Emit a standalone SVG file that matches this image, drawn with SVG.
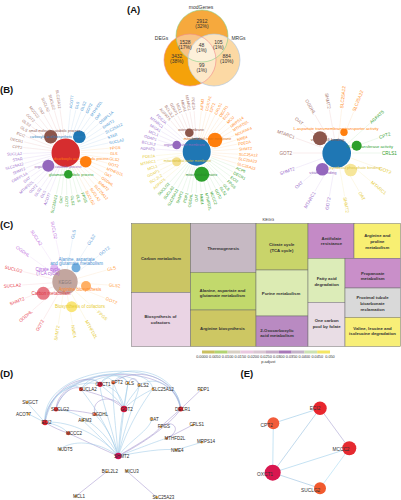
<svg xmlns="http://www.w3.org/2000/svg" width="401" height="500" viewBox="0 0 401 500">
<defs>
<style>
text{font-family:"Liberation Sans",Arial,sans-serif}
.pl{font-size:9.5px;font-weight:bold;fill:#111}
.vn{font-size:5px;fill:#333;text-anchor:middle}
.g1 text,.g2 text{font-size:3.9px;dominant-baseline:central}
.g3 text{font-size:4.6px;dominant-baseline:central}
.gc text{font-size:4.5px;dominant-baseline:central}
.r{text-anchor:start}
.l{text-anchor:end}
line{stroke-width:0.35}
.br text{fill:#a5736b}.br line{stroke:#efcfcf}
.bl text{fill:#3d8fd0}.bl line{stroke:#c9def2}
.or text{fill:#ff8a1c}.or line{stroke:#fde0c0}
.pu text{fill:#9b6fcc}.pu line{stroke:#e0d2f2}
.gr text{fill:#33a02c}.gr line{stroke:#cdeccd}
.ye text{fill:#e6cc3a}.ye line{stroke:#f6eec0}
.rd text{fill:#e8404c}.rd line{stroke:#f6d0d4}
.cb text{fill:#5a9bd8}.cb line{stroke:#d0e2f4}
.cp text{fill:#c070e0}.cp line{stroke:#ecd8f6}
.co text{fill:#ffa040}.co line{stroke:#fde4c8}
.cat{font-size:3.5px;text-anchor:middle}
.cat3{font-size:4.1px;text-anchor:middle}
.catc{font-size:4.5px;text-anchor:middle}
.tm rect{stroke:#6e6e6e;stroke-width:0.5}
.tm text{font-size:4.3px;font-weight:bold;fill:#333;text-anchor:middle}
.cbl{font-size:3.8px;fill:#333;text-anchor:middle}
.de{fill:none;stroke-width:0.55}
.eb{stroke:#9ec9e8}.ep{stroke:#a596d0}
.nd text{font-size:4.5px;fill:#2a2a2a;text-anchor:middle}
.ne text{font-size:4.8px;fill:#333;text-anchor:middle}
.eg{stroke-width:1}
</style>
<clipPath id="cDEG"><circle cx="190" cy="60" r="26"/></clipPath>
<clipPath id="cMOD"><circle cx="202" cy="36" r="26"/></clipPath>
</defs>
<rect width="401" height="500" fill="#fff"/>

<!-- Panel letters -->
<text class="pl" x="127" y="13">(A)</text>
<text class="pl" x="0" y="93">(B)</text>
<text class="pl" x="0" y="228">(C)</text>
<text class="pl" x="0" y="377">(D)</text>
<text class="pl" x="240.5" y="377">(E)</text>

<!-- (A) Venn -->
<g id="venn">
<circle cx="190" cy="60" r="26" fill="#f5a20a"/>
<circle cx="202" cy="36" r="26" fill="#f6a93d"/>
<circle cx="214" cy="60" r="26" fill="#fcd9a4"/>
<circle cx="202" cy="36" r="26" fill="#f8c386" clip-path="url(#cDEG)"/>
<circle cx="214" cy="60" r="26" fill="#fde3bd" clip-path="url(#cMOD)"/>
<circle cx="214" cy="60" r="26" fill="#fde8c8" clip-path="url(#cDEG)"/>
<g clip-path="url(#cDEG)"><circle cx="214" cy="60" r="26" fill="#fdf0da" clip-path="url(#cMOD)"/></g>
<circle cx="202" cy="36" r="26" fill="none" stroke="#86cf86" stroke-width="0.6"/>
<circle cx="190" cy="60" r="26" fill="none" stroke="#f08a8a" stroke-width="0.6"/>
<circle cx="214" cy="60" r="26" fill="none" stroke="#a9c3e0" stroke-width="0.6"/>
<text class="vn" x="201" y="8.5">modGenes</text>
<text class="vn" x="161.5" y="39.5">DEGs</text>
<text class="vn" x="238.5" y="39.5">MRGs</text>
<text class="vn" x="202" y="23">2912</text><text class="vn" x="202" y="28">(32%)</text>
<text class="vn" x="185" y="44.3">1528</text><text class="vn" x="185" y="49.3">(17%)</text>
<text class="vn" x="201.5" y="46.5">48</text><text class="vn" x="201.5" y="51.8">(1%)</text>
<text class="vn" x="218.3" y="44.3">105</text><text class="vn" x="218.3" y="49.3">(1%)</text>
<text class="vn" x="176.7" y="57.7">3432</text><text class="vn" x="176.7" y="63">(38%)</text>
<text class="vn" x="226.7" y="57.7">884</text><text class="vn" x="226.7" y="63">(10%)</text>
<text class="vn" x="201.7" y="66.5">99</text><text class="vn" x="201.7" y="71.7">(1%)</text>
</g>

<!-- (B1) -->
<g id="cnet-b1" class="g1" transform="translate(66,152)">
<g class="br">
<g transform="rotate(186)"><line x1="15" x2="43"/><text class="l" transform="translate(44) rotate(180)">CPT2</text></g>
<g transform="rotate(193.6)"><line x1="15" x2="43"/><text class="l" transform="translate(44) rotate(180)">DECR1</text></g>
<g transform="rotate(201.2)"><line x1="15" x2="43"/><text class="l" transform="translate(44) rotate(180)">ECI2</text></g>
<g transform="rotate(208.8)"><line x1="15" x2="43"/><text class="l" transform="translate(44) rotate(180)">GLS</text></g>
<g transform="rotate(216.4)"><line x1="15" x2="43"/><text class="l" transform="translate(44) rotate(180)">GLS2</text></g>
<g transform="rotate(224)"><line x1="15" x2="43"/><text class="l" transform="translate(44) rotate(180)">GOT2</text></g>
<g transform="rotate(231.6)"><line x1="15" x2="43"/><text class="l" transform="translate(44) rotate(180)">MCCC2</text></g>
<g transform="rotate(239.2)"><line x1="15" x2="43"/><text class="l" transform="translate(44) rotate(180)">OAT</text></g>
<g transform="rotate(246.8)"><line x1="15" x2="43"/><text class="l" transform="translate(44) rotate(180)">SUCLA2</text></g>
<g transform="rotate(254.4)"><line x1="15" x2="43"/><text class="l" transform="translate(44) rotate(180)">SUCLG2</text></g>
<g transform="rotate(262)"><line x1="15" x2="43"/><text class="l" transform="translate(44) rotate(180)">SLC25A12</text></g>
</g>
<g class="bl">
<g transform="rotate(-84)"><line x1="15" x2="43"/><text class="r" x="44">ACOT7</text></g>
<g transform="rotate(-76.8)"><line x1="15" x2="43"/><text class="r" x="44">GLS</text></g>
<g transform="rotate(-69.6)"><line x1="15" x2="43"/><text class="r" x="44">GLS2</text></g>
<g transform="rotate(-62.4)"><line x1="15" x2="43"/><text class="r" x="44">GOT2</text></g>
<g transform="rotate(-55.2)"><line x1="15" x2="43"/><text class="r" x="44">MTHFD2L</text></g>
<g transform="rotate(-48)"><line x1="15" x2="43"/><text class="r" x="44">OAT</text></g>
<g transform="rotate(-40.8)"><line x1="15" x2="43"/><text class="r" x="44">OSBPL1A</text></g>
<g transform="rotate(-33.6)"><line x1="15" x2="43"/><text class="r" x="44">SHMT2</text></g>
<g transform="rotate(-26.4)"><line x1="15" x2="43"/><text class="r" x="44">SLC25A12</text></g>
<g transform="rotate(-19.2)"><line x1="15" x2="43"/><text class="r" x="44">STAR</text></g>
<g transform="rotate(-12)"><line x1="15" x2="43"/><text class="r" x="44">SUCLA2</text></g>
</g>
<g class="or">
<g transform="rotate(-5)"><line x1="15" x2="43"/><text class="r" x="44">FPGS</text></g>
<g transform="rotate(1.7)"><line x1="15" x2="43"/><text class="r" x="44">GLS</text></g>
<g transform="rotate(8.4)"><line x1="15" x2="43"/><text class="r" x="44">GLS2</text></g>
<g transform="rotate(15.1)"><line x1="15" x2="43"/><text class="r" x="44">GOT2</text></g>
<g transform="rotate(21.8)"><line x1="15" x2="43"/><text class="r" x="44">MTHFD2L</text></g>
<g transform="rotate(28.5)"><line x1="15" x2="43"/><text class="r" x="44">OAT</text></g>
<g transform="rotate(35.2)"><line x1="15" x2="43"/><text class="r" x="44">OGDHL</text></g>
<g transform="rotate(41.9)"><line x1="15" x2="43"/><text class="r" x="44">SHMT2</text></g>
<g transform="rotate(48.6)"><line x1="15" x2="43"/><text class="r" x="44">SLC25A12</text></g>
<g transform="rotate(55.3)"><line x1="15" x2="43"/><text class="r" x="44">SUCLA2</text></g>
<g transform="rotate(62)"><line x1="15" x2="43"/><text class="r" x="44">SUCLG2</text></g>
</g>
<g class="gr">
<g transform="rotate(68)"><line x1="15" x2="43"/><text class="r" x="44">FPGS</text></g>
<g transform="rotate(75)"><line x1="15" x2="43"/><text class="r" x="44">GLS</text></g>
<g transform="rotate(82)"><line x1="15" x2="43"/><text class="r" x="44">GLS2</text></g>
<g transform="rotate(89)"><line x1="15" x2="43"/><text class="r" x="44">GOT2</text></g>
<g transform="rotate(96)"><line x1="15" x2="43"/><text class="l" transform="translate(44) rotate(180)">OAT</text></g>
<g transform="rotate(103)"><line x1="15" x2="43"/><text class="l" transform="translate(44) rotate(180)">SLC25A12</text></g>
</g>
<g class="pu">
<g transform="rotate(112)"><line x1="15" x2="43"/><text class="l" transform="translate(44) rotate(180)">ACOT7</text></g>
<g transform="rotate(118.6)"><line x1="15" x2="43"/><text class="l" transform="translate(44) rotate(180)">GLS</text></g>
<g transform="rotate(125.2)"><line x1="15" x2="43"/><text class="l" transform="translate(44) rotate(180)">GLS2</text></g>
<g transform="rotate(131.8)"><line x1="15" x2="43"/><text class="l" transform="translate(44) rotate(180)">GOT2</text></g>
<g transform="rotate(138.4)"><line x1="15" x2="43"/><text class="l" transform="translate(44) rotate(180)">MTHFD2L</text></g>
<g transform="rotate(145)"><line x1="15" x2="43"/><text class="l" transform="translate(44) rotate(180)">OAT</text></g>
<g transform="rotate(151.6)"><line x1="15" x2="43"/><text class="l" transform="translate(44) rotate(180)">OSBPL1A</text></g>
<g transform="rotate(158.2)"><line x1="15" x2="43"/><text class="l" transform="translate(44) rotate(180)">SHMT2</text></g>
<g transform="rotate(164.8)"><line x1="15" x2="43"/><text class="l" transform="translate(44) rotate(180)">SLC25A12</text></g>
<g transform="rotate(171.4)"><line x1="15" x2="43"/><text class="l" transform="translate(44) rotate(180)">STAR</text></g>
<g transform="rotate(178)"><line x1="15" x2="43"/><text class="l" transform="translate(44) rotate(180)">SUCLA2</text></g>
</g>
</g>
<g id="cat-b1">
<circle cx="65.7" cy="152.7" r="14.2" fill="#d62d2f"/>
<circle cx="50.7" cy="136.7" r="6.7" fill="#8c564b"/>
<circle cx="79.3" cy="136.7" r="6.3" fill="#1f77b4"/>
<circle cx="85.7" cy="161.7" r="5.8" fill="#ff7f0e"/>
<circle cx="48.3" cy="165.7" r="6" fill="#9467bd"/>
<circle cx="68.3" cy="174.3" r="4.3" fill="#2ca02c"/>
<text class="cat" x="54.7" y="132.3" fill="#8c564b">small molecule catabolic process</text>
<text class="cat" x="57.7" y="138" fill="#2f7fc0">carboxylic acid biosynthetic process</text>
<text class="cat" x="81.3" y="160.3" fill="#ff7f0e">dicarboxylic acid metabolic process</text>
<text class="cat" x="58" y="168" fill="#9467bd">organic acid catabolic process</text>
<text class="cat" x="71.3" y="176.3" fill="#2ca02c">glutamate metabolic process</text>
</g>

<!-- (B2) -->
<g id="cnet-b2" class="g2" transform="translate(197,152)">
<g class="br">
<g transform="rotate(230)"><line x1="15" x2="41"/><text class="l" transform="translate(42) rotate(180)">AGPAT5</text></g>
<g transform="rotate(236)"><line x1="15" x2="41"/><text class="l" transform="translate(42) rotate(180)">BCL2L2</text></g>
<g transform="rotate(242)"><line x1="15" x2="41"/><text class="l" transform="translate(42) rotate(180)">GDAP1</text></g>
<g transform="rotate(248)"><line x1="15" x2="41"/><text class="l" transform="translate(42) rotate(180)">MCL1</text></g>
<g transform="rotate(254)"><line x1="15" x2="41"/><text class="l" transform="translate(42) rotate(180)">MIGA1</text></g>
<g transform="rotate(260)"><line x1="15" x2="41"/><text class="l" transform="translate(42) rotate(180)">MTARC1</text></g>
<g transform="rotate(266)"><line x1="15" x2="41"/><text class="l" transform="translate(42) rotate(180)">PDE2A</text></g>
</g>
<g class="or">
<g transform="rotate(-84)"><line x1="15" x2="41"/><text class="r" x="42">AIFM3</text></g>
<g transform="rotate(-77)"><line x1="15" x2="41"/><text class="r" x="42">COX7A1</text></g>
<g transform="rotate(-71)"><line x1="15" x2="41"/><text class="r" x="42">CPT2</text></g>
<g transform="rotate(-64)"><line x1="15" x2="41"/><text class="r" x="42">CRLS1</text></g>
<g transform="rotate(-57)"><line x1="15" x2="41"/><text class="r" x="42">DECR1</text></g>
<g transform="rotate(-51)"><line x1="15" x2="41"/><text class="r" x="42">ECI2</text></g>
<g transform="rotate(-44)"><line x1="15" x2="41"/><text class="r" x="42">MCU</text></g>
<g transform="rotate(-37)"><line x1="15" x2="41"/><text class="r" x="42">MRPS14</text></g>
<g transform="rotate(-31)"><line x1="15" x2="41"/><text class="r" x="42">MTHFD2L</text></g>
<g transform="rotate(-24)"><line x1="15" x2="41"/><text class="r" x="42">NDUFAF4</text></g>
<g transform="rotate(-17)"><line x1="15" x2="41"/><text class="r" x="42">NME4</text></g>
<g transform="rotate(-11)"><line x1="15" x2="41"/><text class="r" x="42">PDE2A</text></g>
<g transform="rotate(-4)"><line x1="15" x2="41"/><text class="r" x="42">SHMT2</text></g>
<g transform="rotate(3)"><line x1="15" x2="41"/><text class="r" x="42">SLC25A12</text></g>
<g transform="rotate(9)"><line x1="15" x2="41"/><text class="r" x="42">SLC25A22</text></g>
<g transform="rotate(16)"><line x1="15" x2="41"/><text class="r" x="42">SLC25A23</text></g>
</g>
<g class="gr">
<g transform="rotate(22)"><line x1="15" x2="41"/><text class="r" x="42">ACP6</text></g>
<g transform="rotate(29)"><line x1="15" x2="41"/><text class="r" x="42">DECR1</text></g>
<g transform="rotate(36)"><line x1="15" x2="41"/><text class="r" x="42">ECI2</text></g>
<g transform="rotate(43)"><line x1="15" x2="41"/><text class="r" x="42">FPGS</text></g>
<g transform="rotate(50)"><line x1="15" x2="41"/><text class="r" x="42">GLS</text></g>
<g transform="rotate(56)"><line x1="15" x2="41"/><text class="r" x="42">GLS2</text></g>
<g transform="rotate(63)"><line x1="15" x2="41"/><text class="r" x="42">GOT2</text></g>
<g transform="rotate(70)"><line x1="15" x2="41"/><text class="r" x="42">MCCC2</text></g>
<g transform="rotate(77)"><line x1="15" x2="41"/><text class="r" x="42">MTHFD2L</text></g>
<g transform="rotate(84)"><line x1="15" x2="41"/><text class="r" x="42">NME4</text></g>
<g transform="rotate(91)"><line x1="15" x2="41"/><text class="l" transform="translate(42) rotate(180)">OAT</text></g>
<g transform="rotate(98)"><line x1="15" x2="41"/><text class="l" transform="translate(42) rotate(180)">OGDHL</text></g>
<g transform="rotate(104)"><line x1="15" x2="41"/><text class="l" transform="translate(42) rotate(180)">PDP1</text></g>
<g transform="rotate(111)"><line x1="15" x2="41"/><text class="l" transform="translate(42) rotate(180)">SHMT2</text></g>
<g transform="rotate(118)"><line x1="15" x2="41"/><text class="l" transform="translate(42) rotate(180)">SLC25A12</text></g>
<g transform="rotate(125)"><line x1="15" x2="41"/><text class="l" transform="translate(42) rotate(180)">SUCLA2</text></g>
<g transform="rotate(132)"><line x1="15" x2="41"/><text class="l" transform="translate(42) rotate(180)">SUCLG2</text></g>
</g>
<g class="ye">
<g transform="rotate(140)"><line x1="15" x2="41"/><text class="l" transform="translate(42) rotate(180)">AGPAT5</text></g>
<g transform="rotate(147)"><line x1="15" x2="41"/><text class="l" transform="translate(42) rotate(180)">BCL2L2</text></g>
<g transform="rotate(154)"><line x1="15" x2="41"/><text class="l" transform="translate(42) rotate(180)">GDAP1</text></g>
<g transform="rotate(161)"><line x1="15" x2="41"/><text class="l" transform="translate(42) rotate(180)">MCL1</text></g>
<g transform="rotate(168)"><line x1="15" x2="41"/><text class="l" transform="translate(42) rotate(180)">MTARC1</text></g>
<g transform="rotate(175)"><line x1="15" x2="41"/><text class="l" transform="translate(42) rotate(180)">PDE2A</text></g>
</g>
<g class="pu">
<g transform="rotate(184)"><line x1="15" x2="41"/><text class="l" transform="translate(42) rotate(180)">AGPAT5</text></g>
<g transform="rotate(190.5)"><line x1="15" x2="41"/><text class="l" transform="translate(42) rotate(180)">BCL2L2</text></g>
<g transform="rotate(197)"><line x1="15" x2="41"/><text class="l" transform="translate(42) rotate(180)">GDAP1</text></g>
<g transform="rotate(203.5)"><line x1="15" x2="41"/><text class="l" transform="translate(42) rotate(180)">MCL1</text></g>
<g transform="rotate(210)"><line x1="15" x2="41"/><text class="l" transform="translate(42) rotate(180)">MIGA1</text></g>
<g transform="rotate(216.5)"><line x1="15" x2="41"/><text class="l" transform="translate(42) rotate(180)">MTARC1</text></g>
<g transform="rotate(223)"><line x1="15" x2="41"/><text class="l" transform="translate(42) rotate(180)">PDE2A</text></g>
</g>
</g>
<g id="cat-b2">
<circle cx="196.7" cy="151.7" r="14" fill="#1f77b4"/>
<circle cx="189.3" cy="132.7" r="4.3" fill="#8c564b"/>
<circle cx="215" cy="140" r="7.3" fill="#ff7f0e"/>
<circle cx="176.7" cy="145" r="4.3" fill="#9467bd"/>
<circle cx="176.7" cy="161.7" r="4.5" fill="#f3df8e"/>
<circle cx="201.7" cy="174.3" r="7.5" fill="#2ca02c"/>
<text class="cat" x="191" y="131.3" fill="#8c564b">outer membrane</text>
<text class="cat" x="207.5" y="139.6" fill="#e07010">mitochondrial inner membrane</text>
<text class="cat" x="184.5" y="146.3" fill="#9467bd">organelle outer membrane</text>
<text class="cat" x="187.5" y="162.3" fill="#d8be30">mitochondrial outer membrane</text>
<text class="cat" x="201.5" y="175.5" fill="#2a8a2a">mitochondrial matrix</text>
</g>

<!-- (B3) -->
<g id="cnet-b3" class="g3" transform="translate(337,153)">
<g class="br">
<g transform="rotate(180)"><line x1="15" x2="44"/><text class="l" transform="translate(45) rotate(180)">GOT2</text></g>
<g transform="rotate(200)"><line x1="15" x2="44"/><text class="l" transform="translate(45) rotate(180)">MTARC1</text></g>
<g transform="rotate(220)"><line x1="15" x2="44"/><text class="l" transform="translate(45) rotate(180)">OAT</text></g>
<g transform="rotate(240)"><line x1="15" x2="44"/><text class="l" transform="translate(45) rotate(180)">OGDHL</text></g>
<g transform="rotate(260)"><line x1="15" x2="44"/><text class="l" transform="translate(45) rotate(180)">SHMT2</text></g>
</g>
<g class="or">
<g transform="rotate(-84)"><line x1="15" x2="44"/><text class="r" x="45">SLC25A12</text></g>
<g transform="rotate(-68)"><line x1="15" x2="44"/><text class="r" x="45">SLC25A22</text></g>
</g>
<g class="gr">
<g transform="rotate(-42)"><line x1="15" x2="44"/><text class="r" x="45">AGPAT5</text></g>
<g transform="rotate(-20)"><line x1="15" x2="44"/><text class="r" x="45">CPT2</text></g>
<g transform="rotate(0)"><line x1="15" x2="44"/><text class="r" x="45">CRLS1</text></g>
</g>
<g class="ye">
<g transform="rotate(20)"><line x1="15" x2="44"/><text class="r" x="45">GOT2</text></g>
<g transform="rotate(40)"><line x1="15" x2="44"/><text class="r" x="45">MTARC1</text></g>
<g transform="rotate(60)"><line x1="15" x2="44"/><text class="r" x="45">OAT</text></g>
<g transform="rotate(80)"><line x1="15" x2="44"/><text class="r" x="45">SHMT2</text></g>
</g>
<g class="pu">
<g transform="rotate(100)"><line x1="15" x2="44"/><text class="l" transform="translate(45) rotate(180)">GOT2</text></g>
<g transform="rotate(120)"><line x1="15" x2="44"/><text class="l" transform="translate(45) rotate(180)">MTARC1</text></g>
<g transform="rotate(140)"><line x1="15" x2="44"/><text class="l" transform="translate(45) rotate(180)">OAT</text></g>
<g transform="rotate(160)"><line x1="15" x2="44"/><text class="l" transform="translate(45) rotate(180)">SHMT2</text></g>
</g>
</g>
<g id="cat-b3">
<circle cx="336.7" cy="153.3" r="14.3" fill="#1f77b4"/>
<circle cx="320" cy="138.3" r="7" fill="#8c564b"/>
<circle cx="344" cy="132.3" r="3.7" fill="#ff7f0e"/>
<circle cx="356.7" cy="145.7" r="5" fill="#2ca02c"/>
<circle cx="322.3" cy="169.3" r="6.3" fill="#9467bd"/>
<circle cx="350.7" cy="170" r="6.3" fill="#f6e69a"/>
<text class="cat3" x="336" y="129.8" fill="#ff7f0e">L-aspartate transmembrane transporter activity</text>
<text class="cat3" x="327.5" y="140.5" fill="#8c564b">vitamin B6 binding</text>
<text class="cat3" x="370" y="147.5" fill="#2ca02c">O-acyltransferase activity</text>
<text class="cat3" x="355" y="168.8" fill="#e0c640">pyridoxal phosphate binding</text>
<text class="cat3" x="323" y="174.3" fill="#9467bd">vitamin binding</text>
</g>

<!-- (C) cnet KEGG -->
<g id="cnet-c" class="gc" transform="translate(65,282)">
<g class="cp">
<g transform="rotate(216)"><line x1="13" x2="43"/><text class="l" transform="translate(44) rotate(180)">OGDHL</text></g>
<g transform="rotate(237)"><line x1="13" x2="43"/><text class="l" transform="translate(44) rotate(180)">SUCLA2</text></g>
<g transform="rotate(258)"><line x1="13" x2="43"/><text class="l" transform="translate(44) rotate(180)">SUCLG2</text></g>
</g>
<g class="cb">
<g transform="rotate(-80)"><line x1="13" x2="43"/><text class="r" x="44">GLS</text></g>
<g transform="rotate(-58)"><line x1="13" x2="43"/><text class="r" x="44">GLS2</text></g>
<g transform="rotate(-38)"><line x1="13" x2="43"/><text class="r" x="44">GOT2</text></g>
</g>
<g class="co">
<g transform="rotate(-16)"><line x1="13" x2="43"/><text class="r" x="44">GLS</text></g>
<g transform="rotate(4)"><line x1="13" x2="43"/><text class="r" x="44">GLS2</text></g>
<g transform="rotate(22)"><line x1="13" x2="43"/><text class="r" x="44">GOT2</text></g>
</g>
<g class="ye">
<g transform="rotate(42)"><line x1="13" x2="43"/><text class="r" x="44">FPGS</text></g>
<g transform="rotate(61)"><line x1="13" x2="43"/><text class="r" x="44">MTHFD2L</text></g>
<g transform="rotate(80)"><line x1="13" x2="43"/><text class="r" x="44">NME4</text></g>
<g transform="rotate(99)"><line x1="13" x2="43"/><text class="l" transform="translate(44) rotate(180)">SHMT2</text></g>
</g>
<g class="rd">
<g transform="rotate(120)"><line x1="13" x2="43"/><text class="l" transform="translate(44) rotate(180)">GOT2</text></g>
<g transform="rotate(139)"><line x1="13" x2="43"/><text class="l" transform="translate(44) rotate(180)">OGDHL</text></g>
<g transform="rotate(158)"><line x1="13" x2="43"/><text class="l" transform="translate(44) rotate(180)">SHMT2</text></g>
<g transform="rotate(176)"><line x1="13" x2="43"/><text class="l" transform="translate(44) rotate(180)">SUCLA2</text></g>
<g transform="rotate(194)"><line x1="13" x2="43"/><text class="l" transform="translate(44) rotate(180)">SUCLG2</text></g>
</g>
</g>
<g id="cat-c">
<circle cx="65" cy="281.7" r="12.7" fill="#b8968e" fill-opacity="0.85"/>
<circle cx="43.3" cy="293.3" r="6.5" fill="#e2606e" fill-opacity="0.85"/>
<circle cx="86" cy="286" r="5" fill="#ffa24a" fill-opacity="0.85"/>
<circle cx="76" cy="267.7" r="4.5" fill="#5aa0d8" fill-opacity="0.85"/>
<circle cx="54.3" cy="268.3" r="4" fill="#d9aef0" fill-opacity="0.85"/>
<circle cx="71.7" cy="306.7" r="5.5" fill="#f8e060" fill-opacity="0.85"/>
<text class="catc" x="76.7" y="260.5" fill="#4a90d0">Alanine, aspartate</text>
<text class="catc" x="76.7" y="264.8" fill="#4a90d0">and glutamate metabolism</text>
<text class="catc" x="48" y="270.5" fill="#b060d8">Citrate cycle</text>
<text class="catc" x="48" y="274.8" fill="#b060d8">(TCA cycle)</text>
<text class="catc" x="65" y="283.5" fill="#8a7a78">KEGG</text>
<text class="catc" x="80" y="290.5" fill="#ff8a2a">Arginine biosynthesis</text>
<text class="catc" x="51" y="294.8" fill="#e03a48">Carbon metabolism</text>
<text class="catc" x="80" y="308.3" fill="#e8cc30">Biosynthesis of cofactors</text>
</g>

<!-- (C) treemap -->
<g id="treemap" class="tm">
<text x="268.3" y="220.5" style="font-size:4px;font-weight:normal;fill:#333">KEGG</text>
<rect x="131.5" y="223.5" width="59.2" height="69" fill="#cbc564"/>
<text x="161" y="260">Carbon metabolism</text>
<rect x="131.5" y="292.5" width="59.2" height="54" fill="#ead4e4"/>
<text x="160.5" y="318.2">Biosynthesis of</text><text x="160.5" y="323.8">cofactors</text>
<rect x="190.7" y="223.5" width="65.3" height="48.8" fill="#c6b9c3"/>
<text x="223.3" y="250">Thermogenesis</text>
<rect x="190.7" y="272.3" width="65.3" height="37.7" fill="#c2d96c"/>
<text x="222.5" y="292">Alanine, aspartate and</text><text x="222.5" y="296.8">glutamate metabolism</text>
<rect x="190.7" y="310" width="65.3" height="36.5" fill="#cdc763"/>
<text x="222.5" y="329.8">Arginine biosynthesis</text>
<rect x="256" y="223.5" width="52" height="46.5" fill="#c9d46a"/>
<text x="281.7" y="246.3">Citrate cycle</text><text x="281.7" y="251.5">(TCA cycle)</text>
<rect x="256" y="270" width="52" height="46" fill="#dcebb3"/>
<text x="281" y="294.6">Purine metabolism</text>
<rect x="256" y="316" width="52" height="30.5" fill="#b98ac2"/>
<text x="277" y="332">2-Oxocarboxylic</text><text x="277" y="337.3">acid metabolism</text>
<rect x="308" y="223.5" width="46" height="34.8" fill="#c48ac6"/>
<text x="331.5" y="239.5">Antifolate</text><text x="331.5" y="245">resistance</text>
<rect x="354" y="223.5" width="46.5" height="34.8" fill="#f8ef72"/>
<text x="377.3" y="237">Arginine and</text><text x="377.3" y="242.8">proline</text><text x="377.3" y="248.6">metabolism</text>
<rect x="308" y="258.3" width="37" height="44" fill="#dcecb8"/>
<text x="326.7" y="279.5">Fatty acid</text><text x="326.7" y="285.5">degradation</text>
<rect x="308" y="302.3" width="37" height="44.2" fill="#e9dde5"/>
<text x="326.7" y="322.3">One carbon</text><text x="326.7" y="328">pool by folate</text>
<rect x="345" y="258.3" width="55.5" height="29.7" fill="#c98fc9"/>
<text x="372.7" y="274.5">Propanoate</text><text x="372.7" y="279.8">metabolism</text>
<rect x="345" y="288" width="55.5" height="29.3" fill="#d9d9d9"/>
<text x="372.5" y="298.5">Proximal tubule</text><text x="372.5" y="304.5">bicarbonate</text><text x="372.5" y="310.5">reclamation</text>
<rect x="345" y="317.3" width="55.5" height="29.2" fill="#f8ef78"/>
<text x="372.5" y="329.6">Valine, leucine and</text><text x="372.5" y="334.8">isoleucine degradation</text>
</g>

<!-- colorbar -->
<g id="colorbar">
<rect x="202" y="350.5" width="12.8" height="3" fill="#c9c060"/>
<rect x="214.8" y="350.5" width="12.8" height="3" fill="#b2d472"/>
<rect x="227.6" y="350.5" width="12.8" height="3" fill="#d8d0c4"/>
<rect x="240.4" y="350.5" width="12.8" height="3" fill="#e9c8e0"/>
<rect x="253.2" y="350.5" width="12.8" height="3" fill="#d9c6d2"/>
<rect x="266" y="350.5" width="12.8" height="3" fill="#c6aac6"/>
<rect x="278.8" y="350.5" width="12.8" height="3" fill="#a878b8"/>
<rect x="291.6" y="350.5" width="12.8" height="3" fill="#c4b4c8"/>
<rect x="304.4" y="350.5" width="12.8" height="3" fill="#cce2b2"/>
<rect x="317.2" y="350.5" width="12.8" height="3" fill="#f4e664"/>
<text class="cbl" x="202" y="357.6">0.0000</text>
<text class="cbl" x="214.8" y="357.6">0.0050</text>
<text class="cbl" x="227.6" y="357.6">0.0100</text>
<text class="cbl" x="240.4" y="357.6">0.0150</text>
<text class="cbl" x="253.2" y="357.6">0.0200</text>
<text class="cbl" x="266" y="357.6">0.0250</text>
<text class="cbl" x="278.8" y="357.6">0.0300</text>
<text class="cbl" x="291.6" y="357.6">0.0350</text>
<text class="cbl" x="304.4" y="357.6">0.0400</text>
<text class="cbl" x="317.2" y="357.6">0.0450</text>
<text class="cbl" x="330" y="357.6">0.050</text>
<text class="cbl" x="268.3" y="362.8" style="font-size:4px">p.adjust</text>
</g>

<!-- (D) connectors -->
<g id="d-edges">
<path class="de eb" d="M45,422.5 C40,362 178,352 180.7,409"/>
<path class="de ep" d="M56,409.3 C58,366 176,360 180.7,409"/>
<path class="de eb" d="M45,422.5 C44,372 150,360 152.7,389"/>
<path class="de eb" d="M45,422.5 C46,378 120,368 124,409"/>
<path class="de ep" d="M45,422.5 C50,382 92,372 100,384.3"/>
<path class="de eb" d="M45,422.5 C52,390 74,380 81,389.3"/>
<path class="de eb" d="M56,409.3 C62,386 94,372 100,384.3"/>
<path class="de ep" d="M56,409.3 C60,392 76,384 81,389.3"/>
<path class="de eb" d="M81,389.3 C92,370 122,372 128,383"/>
<path class="de eb" d="M81,389.3 C98,372 134,372 139.3,385"/>
<path class="de eb" d="M100,384.3 C104,376 110,376 113.3,382.7"/>
<path class="de eb" d="M113.3,382.7 C118,375 124,375 128,383"/>
<path class="de ep" d="M128,383 C132,376 137,378 139.3,385"/>
<path class="de eb" d="M100,384.3 C118,362 176,366 180.7,409"/>
<path class="de ep" d="M113.3,382.7 C134,366 174,374 180.7,409"/>
<path class="de eb" d="M139.3,385 C158,374 176,388 180.7,409"/>
<path class="de eb" d="M45,422.5 L27,402.3"/>
<path class="de eb" d="M45,422.5 L28.5,414"/>
<path class="de ep" d="M45,422.5 C54,428 62,431 68.3,433.3"/>
<path class="de ep" d="M56,409.3 C70,410 86,412 95,414.3"/>
<path class="de ep" d="M124,409 C110,396 94,394 81,389.3"/>
<path class="de eb" d="M124,409 C116,396 106,390 100,384.3"/>
<path class="de eb" d="M124,409 L113.3,382.7"/>
<path class="de eb" d="M124,409 L128,383"/>
<path class="de eb" d="M124,409 C130,396 138,390 139.3,385"/>
<path class="de eb" d="M124,409 C134,398 148,392 152.7,389"/>
<path class="de ep" d="M95,414.3 C90,396 116,394 124,409"/>
<path class="de eb" d="M45,422.5 C56,424 64,428 68.3,433.3"/>
<path class="de ep" d="M68.3,433.3 C88,442 104,450 118.3,456"/>
<path class="de eb" d="M118.3,456 C96,440 72,440 60,449.3"/>
<path class="de eb" d="M118.3,456 C96,430 62,420 45,422.5"/>
<path class="de eb" d="M118.3,456 C100,420 70,410 56,409.3"/>
<path class="de eb" d="M118.3,456 C100,436 88,426 82.7,420.3"/>
<path class="de eb" d="M118.3,456 C110,430 100,420 95,414.3"/>
<path class="de eb" d="M118.3,456 C106,420 86,396 81,389.3"/>
<path class="de eb" d="M118.3,456 C110,420 100,396 100,384.3"/>
<path class="de eb" d="M118.3,456 C115,420 112,396 113.3,382.7"/>
<path class="de eb" d="M118.3,456 C120,420 126,396 128,383"/>
<path class="de eb" d="M118.3,456 L124,409"/>
<path class="de eb" d="M118.3,456 C126,420 138,396 139.3,385"/>
<path class="de eb" d="M118.3,456 C130,420 148,396 152.7,389"/>
<path class="de eb" d="M118.3,456 C130,440 150,430 151.7,419"/>
<path class="de ep" d="M118.3,456 C134,446 154,436 160.7,426.7"/>
<path class="de eb" d="M118.3,456 C140,448 160,440 166.7,438.3"/>
<path class="de eb" d="M118.3,456 C140,452 164,448 176,450"/>
<path class="de ep" d="M118.3,456 C150,440 174,420 180.7,409"/>
<path class="de ep" d="M180.7,409 L200.7,390"/>
<path class="de ep" d="M180.7,409 L160.7,426.7"/>
<path class="de ep" d="M160.7,426.7 C172,418 184,430 166.7,438.3"/>
<path class="de ep" d="M192.7,425 L166.7,438.3"/>
<path class="de eb" d="M176,450 L201.7,442.3"/>
<path class="de ep" d="M106.7,471.7 L75.7,496.3"/>
<path class="de ep" d="M126.7,471 L156.7,497.3"/>
</g>

<!-- (D) nodes -->
<g class="nd">
<g id="d-SUGCT"><circle cx="27" cy="402.3" r="1.2" fill="#f0a030"/><text x="30" y="403.8">SUGCT</text></g>
<g id="d-ACOT7"><circle cx="28.5" cy="414" r="1.2" fill="#f0a030"/><text x="23.5" y="415.5">ACOT7</text></g>
<g id="d-ECI2"><circle cx="45" cy="422.5" r="2.8" fill="#e0202a"/><text x="46.5" y="424">ECI2</text></g>
<g id="d-SUCLG2"><circle cx="56" cy="409.3" r="2.3" fill="#e02a2a"/><text x="60" y="410.8">SUCLG2</text></g>
<g id="d-SUCLA2"><circle cx="81" cy="389.3" r="2" fill="#e84030"/><text x="88" y="390.8">SUCLA2</text></g>
<g id="d-OXCT1"><circle cx="100" cy="384.3" r="2.6" fill="#e01838"/><text x="103" y="385.8">OXCT1</text></g>
<g id="d-CPT2"><circle cx="113.3" cy="382.7" r="1.8" fill="#f06030"/><text x="117" y="384.2">CPT2</text></g>
<g id="d-GLS"><circle cx="128" cy="383" r="1.2" fill="#f0a030"/><text x="129.5" y="384.5">GLS</text></g>
<g id="d-GLS2"><circle cx="139.3" cy="385" r="1.2" fill="#f0a030"/><text x="143" y="386.5">GLS2</text></g>
<g id="d-SLC25A12"><circle cx="152.7" cy="389" r="1.2" fill="#f0a030"/><text x="163" y="390.5">SLC25A12</text></g>
<g id="d-GOT2"><circle cx="124" cy="409" r="3.2" fill="#d81840"/><text x="126.7" y="410.5">GOT2</text></g>
<g id="d-OGDHL"><circle cx="95" cy="414.3" r="1.8" fill="#f06030"/><text x="100" y="415.8">OGDHL</text></g>
<g id="d-AIFM3"><circle cx="82.7" cy="420.3" r="1.2" fill="#f0a030"/><text x="85" y="421.8">AIFM3</text></g>
<g id="d-MCCC2"><circle cx="68.3" cy="433.3" r="2" fill="#f05030"/><text x="74" y="434.8">MCCC2</text></g>
<g id="d-NUDT5"><circle cx="60" cy="449.3" r="1.2" fill="#f0a030"/><text x="65" y="450.8">NUDT5</text></g>
<g id="d-SHMT2"><circle cx="118.3" cy="456" r="3.3" fill="#d0145a"/><text x="121.7" y="457.5">SHMT2</text></g>
<g id="d-OAT"><circle cx="151.7" cy="419" r="1.2" fill="#f0a030"/><text x="154.3" y="420.5">OAT</text></g>
<g id="d-DECR1"><circle cx="180.7" cy="409" r="2.5" fill="#e0202a"/><text x="182.7" y="410.5">DECR1</text></g>
<g id="d-FPGS"><circle cx="160.7" cy="426.7" r="1.3" fill="#f0a030"/><text x="164" y="428.2">FPGS</text></g>
<g id="d-MTHFD2L"><circle cx="166.7" cy="438.3" r="1.3" fill="#f08030"/><text x="175" y="439.8">MTHFD2L</text></g>
<g id="d-NME4"><circle cx="176" cy="450" r="1.3" fill="#f0a030"/><text x="177.3" y="451.5">NME4</text></g>
<g id="d-CRLS1"><circle cx="192.7" cy="425" r="1.2" fill="#f0a030"/><text x="196.7" y="426">CRLS1</text></g>
<g id="d-MRPS14"><circle cx="201.7" cy="442.3" r="1.2" fill="#f0a030"/><text x="206" y="443.3">MRPS14</text></g>
<g id="d-PDP1"><circle cx="200.7" cy="390" r="1.2" fill="#f0a030"/><text x="203.3" y="391">PDP1</text></g>
<g id="d-BCL2L2"><circle cx="106.7" cy="471.7" r="1.2" fill="#f0a030"/><text x="110" y="472.7">BCL2L2</text></g>
<g id="d-MICU3"><circle cx="126.7" cy="471" r="1.2" fill="#f0a030"/><text x="131.7" y="472.5">MICU3</text></g>
<g id="d-MCL1"><circle cx="75.7" cy="496.3" r="1.2" fill="#f0a030"/><text x="79" y="497.6">MCL1</text></g>
<g id="d-SLC25A23"><circle cx="156.7" cy="497.3" r="1.2" fill="#f0a030"/><text x="163.3" y="498.8">SLC25A23</text></g>
</g>

<!-- (E) connectors -->
<g id="e-edges" class="eg">
<line x1="273.3" y1="423.3" x2="320" y2="408.3" stroke="#4a9fd4"/>
<line x1="320" y1="408.3" x2="349.3" y2="448.3" stroke="#6a5fb0"/>
<line x1="320" y1="408.3" x2="272.7" y2="472.7" stroke="#4a92c8"/>
<line x1="273.3" y1="423.3" x2="272.7" y2="472.7" stroke="#5ab0e0"/>
<line x1="272.7" y1="472.7" x2="349.3" y2="448.3" stroke="#56aadd"/>
<line x1="272.7" y1="472.7" x2="320" y2="488.3" stroke="#4a90c8"/>
<line x1="320" y1="488.3" x2="349.3" y2="448.3" stroke="#6cc2ea"/>
</g>
<g class="ne">
<g id="e-ECI2"><circle cx="320" cy="408.3" r="6.7" fill="#e8262e"/><text x="315" y="410">ECI2</text></g>
<g id="e-CPT2"><circle cx="273.3" cy="423.3" r="6" fill="#f25c3a"/><text x="266.7" y="426.5">CPT2</text></g>
<g id="e-MCCC2"><circle cx="349.3" cy="448.3" r="7" fill="#e52a30"/><text x="341" y="451">MCCC2</text></g>
<g id="e-OXCT1"><circle cx="272.7" cy="472.7" r="8" fill="#d8174f"/><text x="265" y="475.5">OXCT1</text></g>
<g id="e-SUCLG2"><circle cx="320" cy="488.3" r="6" fill="#f15a2e"/><text x="310.7" y="491.5">SUCLG2</text></g>
</g>
</svg>
